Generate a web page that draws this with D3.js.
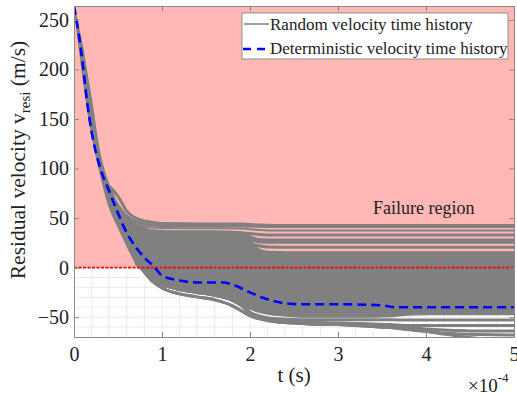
<!DOCTYPE html>
<html>
<head>
<meta charset="utf-8">
<script src="https://cdn.jsdelivr.net/npm/d3@7"></script>
<style>
  body { margin: 0; background: #fff; }
  text { font-family: "Liberation Serif", "Times New Roman", serif; }
</style>
</head>
<body>
<svg width="517" height="395"></svg>
<script>
// time axis in units of 1e-4 s
var xTicks = [0, 1, 2, 3, 4, 5];
var yTicks = [-50, 0, 50, 100, 150, 200, 250];

// envelope of the dense core of random histories
var bandT      = [0, 0.05, 0.1, 0.15, 0.2, 0.25, 0.3, 0.35, 0.4, 0.5, 0.6, 0.7, 0.8, 0.9, 1.0, 1.2, 1.4, 1.6, 1.8, 1.9, 2.0, 2.1, 2.2, 2.4, 2.6, 2.8, 3.0, 3.2, 3.4, 3.6, 3.8, 4.0, 4.2, 4.4, 4.6, 5.0];
var bandTop    = [264, 243, 222, 195, 169, 139, 113, 96, 84, 63, 51, 44, 40, 38, 37.5, 37, 37, 37, 36.5, 36, 29, 19, 16.5, 16, 16, 16, 16, 16, 16, 16, 16, 16, 16, 16, 16, 16];
var bandBottom = [264, 228, 193, 162, 135, 113, 94, 76, 61, 41, 22, 5, -4, -12, -17, -22, -25, -28, -33, -37, -42, -45, -47, -49, -50, -50, -50, -50, -50, -49.5, -48, -47.5, -47.5, -47.5, -47.5, -47.5];

// individual random histories that level off above the core
var upT     = [0.4, 0.5, 0.6, 0.7, 0.8, 0.9, 1.0, 1.5, 1.9, 2.0, 2.1, 2.2, 2.5, 5.0];
var runA1   = [82, 72, 57, 50, 47, 45.5, 44.5, 44, 44, 43.5, 43, 42.8, 42.5, 42.5];
var runA2   = [80, 63, 52, 46.5, 44, 43, 42.5, 42.3, 42.2, 42, 41.8, 41.5, 41.5, 41.5];
var runB    = [80, 62, 50, 44, 41.5, 40.5, 40, 39.7, 39.6, 38.8, 38, 37.5, 37.5, 37.5];
var runD    = [80, 61, 49, 42, 38, 36.5, 36, 35.5, 35, 34.5, 33.5, 33, 33, 33];
var runE1   = [80, 60, 48, 41, 37, 35.5, 35, 34.5, 34, 31, 28.5, 28, 28, 28];
var runE2   = [80, 60, 47, 40, 36, 35, 34.5, 34, 33, 29, 26.2, 25.5, 25.5, 25.5];
var runF    = [80, 59, 46, 39, 35, 34, 33.5, 33, 27, 24.5, 22, 20.8, 20.5, 20.5];
var upperRuns = [runA1, runA2, runB, runD, runE1, runE2, runF];

// individual random histories below the core
var lowT    = [0.7, 0.8, 0.9, 1.0, 1.2, 1.4, 1.6, 1.8, 1.9, 2.0, 2.1, 2.2, 2.4, 2.6, 2.8, 3.0, 3.2, 3.4, 3.6, 3.8, 4.0, 4.2, 4.4, 4.6, 5.0];
var lowRun1 = [6.5, -4.5, -14.5, -20.5, -26.5, -29.5, -32.5, -38.5, -43.5, -48.5, -51.5, -53.5, -55.5, -56.5, -57.5, -57.5, -58.5, -59.5, -60.5, -62.5, -64.5, -67, -69.5, -71.5, -74.5];
var lowRun2 = [5, -4, -12, -17, -22, -25, -28, -33, -38, -45, -48.5, -50.5, -52, -52.5, -52.5, -52.5, -52.5, -52.5, -52.7, -52.8, -52.8, -52.8, -52.8, -52.8, -52.8];
var lowRun3 = [5, -4, -12, -17, -22, -25, -28, -33, -38, -46, -50, -52.5, -54.5, -55, -55.5, -56, -56.5, -57, -57.5, -58.5, -58.5, -58.5, -58.5, -58.5, -58.5];
var lowRun4 = [5, -4, -12, -17, -22, -25, -28, -33, -38, -46, -50, -52.5, -54.5, -55, -55.5, -56, -56.5, -57.5, -58.5, -60.5, -62, -63, -63.5, -64, -64];
var lowRun5 = [6.5, -4.5, -14.5, -20.5, -26.5, -29.5, -32.5, -38.5, -43.5, -48.5, -51.5, -53.5, -55.5, -56.5, -57.5, -57.5, -58.5, -59.5, -60.5, -62.5, -64, -66, -67, -67.5, -68];
var lowerRuns = [lowRun1, lowRun2, lowRun3, lowRun4, lowRun5];

// deterministic history
var detT = [0, 0.05, 0.1, 0.15, 0.2, 0.3, 0.4, 0.5, 0.6, 0.7, 0.8, 0.9, 1.0, 1.2, 1.4, 1.7, 1.8, 2.0, 2.2, 2.4, 2.6, 3.0, 3.5, 3.65, 4.0, 5.0];
var detV = [264, 238, 205, 166, 137, 100, 77, 55, 35, 21, 10, 2, -8, -13, -15, -15, -17, -25, -32, -36, -37, -37, -38, -40, -40, -40];

function main() {
  var svg = d3.select("svg");
  var pl = 74, pr = 514, pt = 6, pb = 337;
  var x = d3.scaleLinear().domain([0, 5]).range([pl, pr]);
  var y = d3.scaleLinear().domain([-70, 264]).range([pb, pt]);

  svg.append("defs").append("clipPath").attr("id", "plot")
    .append("rect").attr("x", pl).attr("y", pt)
    .attr("width", pr - pl).attr("height", pb - pt);

  var g = svg.append("g").attr("clip-path", "url(#plot)");

  // minor grid
  d3.range(0.2, 5, 0.2).forEach(function(t) {
    g.append("line").attr("x1", x(t)).attr("x2", x(t)).attr("y1", pt).attr("y2", pb)
      .attr("stroke", "#e4e4e4").attr("stroke-width", 0.7);
  });
  d3.range(-60, 264, 10).forEach(function(v) {
    g.append("line").attr("x1", pl).attr("x2", pr).attr("y1", y(v)).attr("y2", y(v))
      .attr("stroke", "#e4e4e4").attr("stroke-width", 0.7);
  });

  // failure region
  g.append("rect").attr("x", pl).attr("y", y(264))
    .attr("width", pr - pl).attr("height", y(0) - y(264))
    .attr("fill", "#ffb8b3");

  // random histories
  var bandData = bandT.map(function(t, i) { return [t, bandBottom[i], bandTop[i]]; });
  g.append("path").datum(bandData)
    .attr("fill", "#808080").attr("stroke", "#808080").attr("stroke-width", 1.2)
    .attr("d", d3.area().curve(d3.curveMonotoneX)
      .x(function(d) { return x(d[0]); })
      .y0(function(d) { return y(d[1]); })
      .y1(function(d) { return y(d[2]); }));

  var runLine = d3.line().curve(d3.curveMonotoneX)
    .x(function(d) { return x(d[0]); })
    .y(function(d) { return y(d[1]); });

  upperRuns.forEach(function(run) {
    g.append("path").datum(upT.map(function(t, i) { return [t, run[i]]; }))
      .attr("fill", "none").attr("stroke", "#808080")
      .attr("stroke-width", run === runB ? 2 : 3)
      .attr("d", runLine);
  });
  lowerRuns.forEach(function(run) {
    g.append("path").datum(lowT.map(function(t, i) { return [t, run[i]]; }))
      .attr("fill", "none").attr("stroke", "#808080").attr("stroke-width", 3)
      .attr("d", runLine);
  });

  // zero line
  g.append("line").attr("x1", pl).attr("x2", pr).attr("y1", y(0)).attr("y2", y(0))
    .attr("stroke", "#ff0000").attr("stroke-width", 1.6).attr("stroke-dasharray", "3,1.5");

  // deterministic
  g.append("path").datum(detT.map(function(t, i) { return [t, detV[i]]; }))
    .attr("fill", "none").attr("stroke", "#0000ff").attr("stroke-width", 2.6)
    .attr("stroke-dasharray", "9,5")
    .attr("d", runLine);

  // axes
  var axCol = "#8a8a8a";
  function styleAxis(sel) {
    sel.select(".domain").attr("stroke", axCol);
    sel.selectAll(".tick line").attr("stroke", axCol);
    sel.selectAll(".tick text").attr("fill", "#222").style("font-size", "20px")
      .style("font-family", "Liberation Serif, Times New Roman, serif");
  }
  svg.append("g").attr("transform", "translate(0," + pb + ")")
    .call(d3.axisBottom(x).tickValues(xTicks).tickFormat(d3.format("d"))
      .tickSizeInner(-5).tickSizeOuter(0).tickPadding(10))
    .call(styleAxis);
  svg.append("g").attr("transform", "translate(" + pl + ",0)")
    .call(d3.axisLeft(y).tickValues(yTicks).tickFormat(d3.format("d"))
      .tickSizeInner(-5).tickSizeOuter(0).tickPadding(5))
    .call(styleAxis);
  svg.append("g").attr("transform", "translate(0," + pt + ")")
    .call(d3.axisTop(x).tickValues(xTicks).tickFormat("").tickSizeInner(-5).tickSizeOuter(0))
    .call(styleAxis);
  svg.append("g").attr("transform", "translate(" + pr + ",0)")
    .call(d3.axisRight(y).tickValues(yTicks).tickFormat("").tickSizeInner(-5).tickSizeOuter(0))
    .call(styleAxis);

  // labels
  svg.append("text").attr("x", 294).attr("y", 382).attr("text-anchor", "middle")
    .attr("font-size", 21).attr("fill", "#222").text("t (s)");

  var mult = svg.append("text").attr("x", 468).attr("y", 392)
    .attr("font-size", 19).attr("fill", "#222");
  mult.append("tspan").text("\u00d710");
  mult.append("tspan").attr("dy", -10).attr("font-size", 13).text("-4");

  var yl = svg.append("text").attr("transform", "translate(25,160) rotate(-90)")
    .attr("text-anchor", "middle").attr("font-size", 21.5).attr("fill", "#222");
  yl.append("tspan").text("Residual velocity v");
  yl.append("tspan").attr("dy", 5).attr("font-size", 15).text("resi");
  yl.append("tspan").attr("dy", -5).text(" (m/s)");

  svg.append("text").attr("x", 373).attr("y", 214)
    .attr("font-size", 18).attr("fill", "#222").text("Failure region");

  // legend
  var lg = svg.append("g");
  lg.append("rect").attr("x", 242).attr("y", 13).attr("width", 266).attr("height", 46)
    .attr("fill", "#fff").attr("stroke", "#7a7a7a").attr("stroke-width", 0.8);
  lg.append("line").attr("x1", 244).attr("x2", 269).attr("y1", 24).attr("y2", 24)
    .attr("stroke", "#808080").attr("stroke-width", 1.5);
  lg.append("line").attr("x1", 243).attr("x2", 269).attr("y1", 49).attr("y2", 49)
    .attr("stroke", "#0000ff").attr("stroke-width", 2.6).attr("stroke-dasharray", "8,6");
  lg.append("text").attr("x", 270).attr("y", 30).attr("font-size", 17).attr("fill", "#222")
    .text("Random velocity time history");
  lg.append("text").attr("x", 270).attr("y", 54).attr("font-size", 17).attr("fill", "#222")
    .text("Deterministic velocity time history");
}
main();
</script>
</body>
</html>
